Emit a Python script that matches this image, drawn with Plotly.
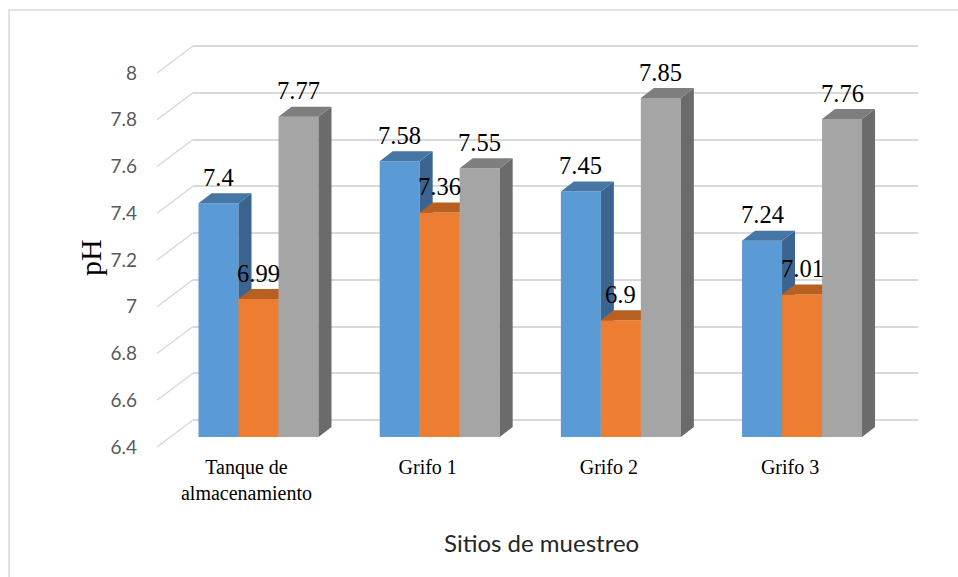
import plotly.graph_objects as go

# ---------------- data ----------------
categories = ["Tanque de<br>almacenamiento", "Grifo 1", "Grifo 2", "Grifo 3"]
serie_1 = [7.40, 7.58, 7.45, 7.24]
serie_2 = [6.99, 7.36, 6.90, 7.01]
serie_3 = [7.77, 7.55, 7.85, 7.76]
y_tick_vals = [6.4, 6.6, 6.8, 7.0, 7.2, 7.4, 7.6, 7.8, 8.0]
y_tick_text = ["6.4", "6.6", "6.8", "7", "7.2", "7.4", "7.6", "7.8", "8"]
x_title = "Sitios de muestreo"
y_title = "pH"

# ---------------- geometry / style ----------------
W, H = 958, 577
ML, MR, MT, MB = 193, 40, 30, 130
PW, PH = W - ML - MR, H - MT - MB
x_range = [-0.3615, 3.6400]
px_x = PW / (x_range[1] - x_range[0])
y_base = 6.4
px_y = 233.75
y_top = y_base + PH / px_y
bar_shift = 10 / px_y        # bars sit a little behind the label plane
wall_shift = 27 / px_y       # back wall gridlines
bar_w = 40 / px_x
dx = 13 / px_x
dy = 10 / px_y
label_shift = 12 / px_x      # category labels sit on the front floor edge (perspective)
SERIF = "Times New Roman, Liberation Serif, serif"

series = [
    (serie_1, "y2", "#5B9BD5", "#4676A6", "#3B6590"),
    (serie_2, "y4", "#ED7D31", "#B85F22", "#A9541C"),
    (serie_3, "y5", "#A5A5A5", "#7E7E7E", "#6B6B6B"),
]

xs = list(range(len(categories)))
fig = go.Figure()
# anchor traces for the main / wall axes
fig.add_trace(go.Scatter(x=[0], y=[7], yaxis="y", opacity=0, showlegend=False, hoverinfo="skip"))
fig.add_trace(go.Scatter(x=[0], y=[7], yaxis="y3", opacity=0, showlegend=False, hoverinfo="skip"))

annotations = []
for k, (vals, ax, c_front, c_top, c_side) in enumerate(series):
    off = (k - 1.5) * bar_w
    fig.add_trace(go.Bar(
        x=xs, y=[v - y_base for v in vals], base=y_base, width=bar_w, offset=off,
        marker=dict(color=c_front, line=dict(width=0)), yaxis=ax, showlegend=False,
    ))
    tx, ty, sx, sy = [], [], [], []
    for i, v in enumerate(vals):
        L = i + off
        R = L + bar_w
        tx += [L, R, R + dx, L + dx, L, None]
        ty += [v, v, v + dy, v + dy, v, None]
        sx += [R, R, R + dx, R + dx, R, None]
        sy += [y_base, v, v + dy, y_base + dy, y_base, None]
        annotations.append(dict(
            x=L + bar_w / 2, y=v, xref="x", yref=ax, yshift=26, showarrow=False,
            xanchor="center", yanchor="middle",
            text=("%g" % v), font=dict(family=SERIF, size=24.5, color="#000000"),
        ))
    fig.add_trace(go.Scatter(x=sx, y=sy, yaxis=ax, mode="lines", fill="toself",
                             fillcolor=c_side, line=dict(width=0, color=c_side),
                             showlegend=False, hoverinfo="skip"))
    fig.add_trace(go.Scatter(x=tx, y=ty, yaxis=ax, mode="lines", fill="toself",
                             fillcolor=c_top, line=dict(width=0, color=c_top),
                             showlegend=False, hoverinfo="skip"))

# axis titles
annotations.append(dict(x=(541 - ML) / PW, y=(MT + PH - 542) / PH, xref="paper", yref="paper",
                        xanchor="center", yanchor="middle",
                        text=x_title, showarrow=False,
                        font=dict(family="Lato", size=24, color="#262626")))
annotations.append(dict(x=(90 - ML) / PW, y=(MT + PH - 258) / PH, xref="paper", yref="paper",
                        xanchor="center", yanchor="middle",
                        text=y_title, showarrow=False, textangle=-90,
                        font=dict(family=SERIF, size=30, color="#000000")))

shapes = []
for v in y_tick_vals:
    shapes.append(dict(type="line", xref="paper", yref="y", x0=-36 / PW, y0=v, x1=0, y1=v + wall_shift,
                       line=dict(color="#D9D9D9", width=1.5), layer="below"))
shapes.append(dict(type="rect", xref="paper", yref="paper",
                   x0=(9 - ML) / PW, x1=(965 - ML) / PW,
                   y0=(MT + PH - 590) / PH, y1=(MT + PH - 10) / PH,
                   line=dict(color="#D9D9D9", width=1.5), fillcolor="rgba(0,0,0,0)", layer="below"))

shifted = lambda s: [y_base - s, y_top - s]
fig.update_layout(
    width=W, height=H, margin=dict(l=ML, r=MR, t=MT, b=MB),
    paper_bgcolor="white", plot_bgcolor="rgba(0,0,0,0)",
    showlegend=False, annotations=annotations, shapes=shapes,
    xaxis=dict(range=x_range, tickmode="array", tickvals=[i - label_shift for i in xs],
               ticktext=categories,
               showgrid=False, zeroline=False, showline=False, ticks="",
               tickfont=dict(family=SERIF, size=20, color="#000000"),
               ticklabelstandoff=6),
    yaxis=dict(range=[y_base, y_top], tickmode="array", tickvals=y_tick_vals, ticktext=y_tick_text,
               showgrid=False, zeroline=False, showline=False, ticks="",
               tickfont=dict(family="Lato", size=19, color="#595959"), ticklabelstandoff=55),
    yaxis3=dict(range=shifted(wall_shift), overlaying="y", tickmode="array", tickvals=y_tick_vals,
                showgrid=True, gridcolor="#D9D9D9", gridwidth=1.5, zeroline=False,
                showticklabels=False, showline=False, ticks=""),
    yaxis2=dict(range=shifted(bar_shift), overlaying="y", visible=False),
    yaxis4=dict(range=shifted(bar_shift), overlaying="y", visible=False),
    yaxis5=dict(range=shifted(bar_shift), overlaying="y", visible=False),
)

fig.write_html("out.html")
